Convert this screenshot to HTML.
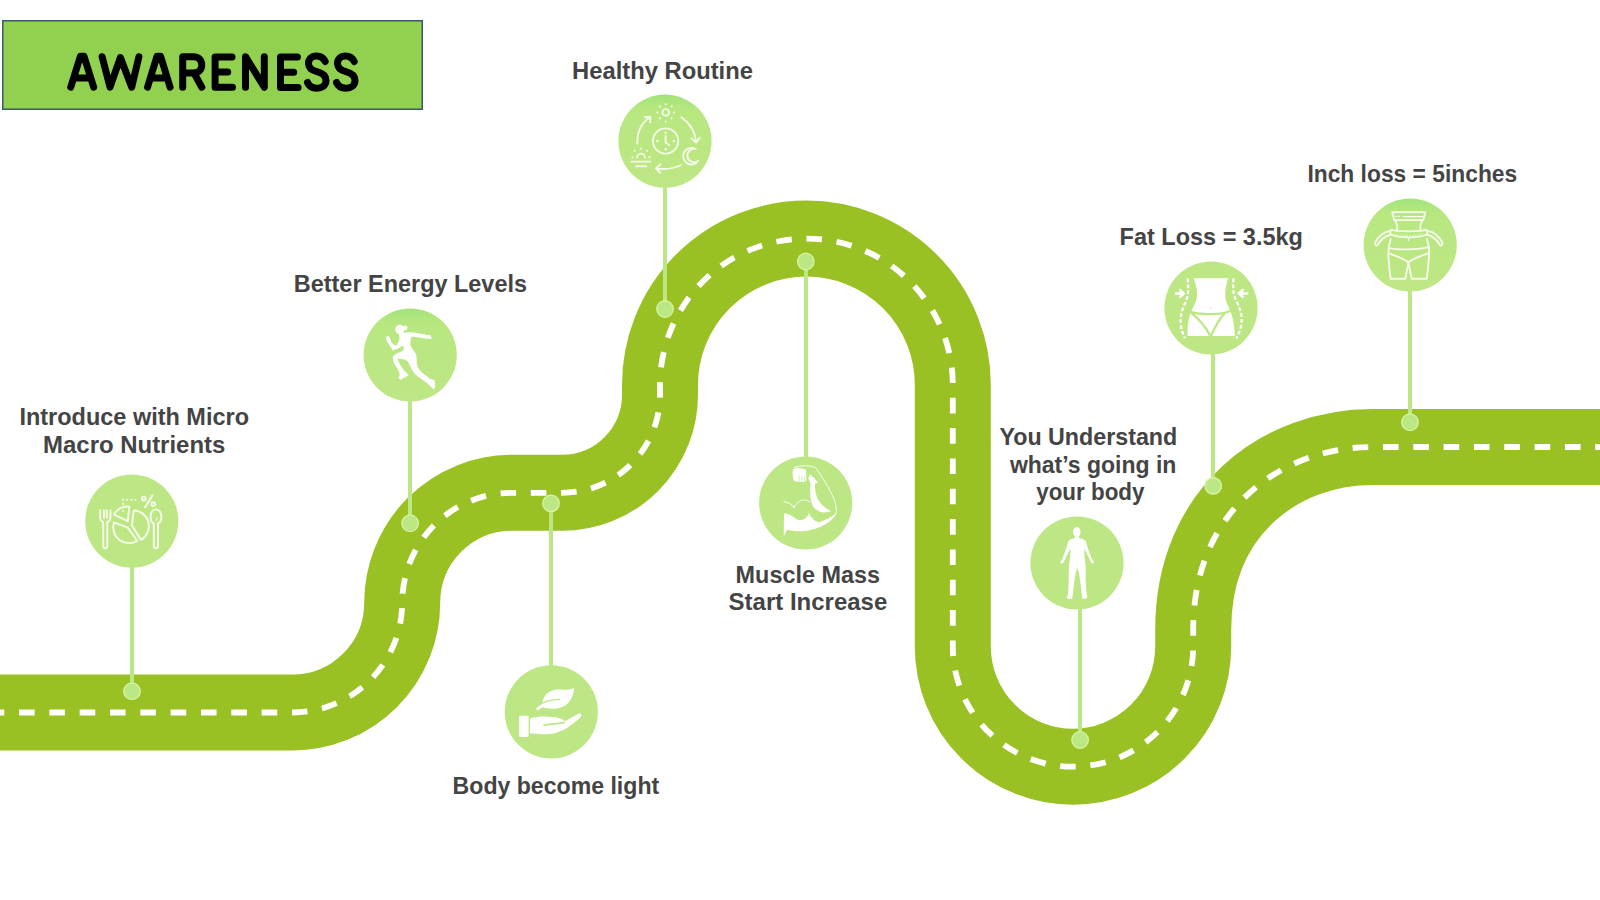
<!DOCTYPE html>
<html>
<head>
<meta charset="utf-8">
<style>
html,body{margin:0;padding:0;background:#ffffff;}
body{width:1600px;height:900px;overflow:hidden;position:relative;}
svg{position:absolute;left:0;top:0;}
.t{font-family:"Liberation Sans",sans-serif;font-weight:bold;fill:#444444;font-size:23.2px;}
</style>
</head>
<body>
<svg width="1600" height="900" viewBox="0 0 1600 900">
  <defs>
    <linearGradient id="cg" x1="0" y1="0" x2="0" y2="1">
      <stop offset="0" stop-color="#A2E37A"/>
      <stop offset="0.16" stop-color="#B8E780"/>
      <stop offset="1" stop-color="#BEE785"/>
    </linearGradient>
  </defs>
  <!-- title box -->
  <rect x="2.75" y="20.75" width="419.5" height="88.5" fill="#92D050" stroke="#3B5868" stroke-width="1.5"/>
  <path fill="none" stroke="#000000" stroke-width="7" stroke-linecap="round" stroke-linejoin="round" d="M70.7 87.2 L80.4 56.2 H84 L93.7 87.2 M75.6 78 H88.8 M102.1 56.7 L110 87.2 L120.4 57.5 L131.7 87.2 L138.9 56.7 M147.5 87.2 L157 56.2 H160.6 L170.1 87.2 M152.3 78 H165.5 M182.7 87.2 V56.7 H193.5 C199 56.7 201.7 60.5 201.7 65 C201.7 69.5 199 73 193.5 73 H182.7 M194 73 L201.8 87.2 M232 56.9 H215.1 V87.3 H232.5 M215.1 72.1 H227.7 M245.5 87.2 V56.7 L264.3 87.2 V56.7 M297.4 57 H280.5 V87.5 H298.1 M280.5 72.2 H293.7 M325.2 61.5 C323.5 58 320 56 316.5 56 C311.5 56 308.5 59 308.5 63.5 C308.5 68.5 312.5 70.5 317 71.7 C322 73 326 75.5 326 80.5 C326 85.5 322 88.2 316.8 88.2 C312.5 88.2 309 86 307.5 82.5 M354.2 61.5 C352.5 58 349 56 345.5 56 C340.5 56 337.5 59 337.5 63.5 C337.5 68.5 341.5 70.5 346 71.7 C351 73 355 75.5 355 80.5 C355 85.5 351 88.2 345.8 88.2 C341.5 88.2 338 86 336.5 82.5"/>

  <!-- road -->
  <g id="road">
    <path id="roadpath" d="M -10 712.5 H 292.35 A 109.85 109.85 0 0 0 402.2 602.65 A 109.85 109.85 0 0 1 512.05 492.8 H 562 A 98 98 0 0 0 660 394.8 V 385 A 146.4 146.4 0 0 1 952.8 385 V 646.5 A 120.2 120.2 0 0 0 1193.2 646.5 L 1193.2 629.65 C 1193.2 509.5 1282.2 447 1372.4 447 H 1610"
      fill="none" stroke="#9AC124" stroke-width="76"/>
    <path d="M -10 712.5 H 292.35 A 109.85 109.85 0 0 0 402.2 602.65 A 109.85 109.85 0 0 1 512.05 492.8 H 562 A 98 98 0 0 0 660 394.8 V 385 A 146.4 146.4 0 0 1 952.8 385 V 646.5 A 120.2 120.2 0 0 0 1193.2 646.5 L 1193.2 629.65 C 1193.2 509.5 1282.2 447 1372.4 447 H 1610"
      fill="none" stroke="#ffffff" stroke-width="5.8" stroke-dasharray="15.6 14.727" stroke-dashoffset="1.315"/>
  </g>

  <!-- connectors -->
  <g stroke="#BCE785" stroke-width="4" fill="none">
    <line x1="132" y1="567" x2="132" y2="691"/>
    <line x1="410" y1="401" x2="410" y2="523"/>
    <line x1="551" y1="503" x2="551" y2="666"/>
    <line x1="665" y1="187" x2="665" y2="309"/>
    <line x1="806" y1="261" x2="806" y2="457"/>
    <line x1="1080" y1="609" x2="1080" y2="740"/>
    <line x1="1213" y1="354" x2="1213" y2="486"/>
    <line x1="1410" y1="291" x2="1410" y2="422"/>
  </g>
  <g fill="#BCE785" stroke="#D8F5A8" stroke-width="1.2">
    <circle cx="132" cy="691.2" r="8.3"/>
    <circle cx="410.1" cy="523.2" r="8.3"/>
    <circle cx="551" cy="503.4" r="8.3"/>
    <circle cx="665" cy="309" r="8.3"/>
    <circle cx="805.8" cy="261.5" r="8.3"/>
    <circle cx="1080.1" cy="740" r="8.3"/>
    <circle cx="1213.2" cy="485.9" r="8.3"/>
    <circle cx="1410" cy="422.2" r="8.3"/>
  </g>
  <g fill="#BDE785">
    <circle cx="131.8" cy="521.1" r="46.6"/>
    <circle cx="551.3" cy="711.9" r="46.6"/>
    <circle cx="805.7" cy="503" r="46.6"/>
    <circle cx="1077" cy="563" r="46.6"/>
    <circle cx="1211" cy="308" r="46.6"/>
  </g>
  <g fill="url(#cg)">
    <circle cx="410.2" cy="355" r="46.6"/>
    <circle cx="665" cy="141.2" r="46.6"/>
    <circle cx="1410.2" cy="245" r="46.6"/>
  </g>

  <!-- ICONS -->
  <!-- 1 nutrition -->
  <g transform="translate(96,490) scale(0.072239)" fill="none" stroke="#F6FCEA" stroke-width="27" stroke-linejoin="round" stroke-linecap="round">
    <path d="M58 280 V385 Q60 430 100 445 V775 Q100 805 128 805 Q156 805 156 775 V445 Q198 430 200 385 V280"/>
    <path d="M110 280 V385 M150 280 V385"/>
    <path d="M250 340 A208 208 0 0 1 462 230 L440 430 Z"/>
    <path d="M248 450 A218 218 0 0 0 572 702 L440 522 Z"/>
    <path d="M522 282 A218 218 0 0 1 622 690 L498 492 Z"/>
    <path d="M828 268 C780 268 755 320 755 370 C755 420 780 455 800 462 V780 Q800 805 830 805 Q858 805 858 780 V462 C880 455 905 420 905 370 C905 320 876 268 828 268 Z"/>
    <path d="M828 420 Q850 400 845 380" stroke-width="14"/>
    <path d="M680 238 L780 78"/>
    <circle cx="662" cy="118" r="26"/>
    <circle cx="792" cy="195" r="26"/>
  </g>
  <g transform="translate(96,490) scale(0.072239)" fill="#F6FCEA">
    <rect x="362" y="122" width="26" height="26"/><rect x="418" y="122" width="26" height="26"/><rect x="476" y="122" width="26" height="26"/><rect x="532" y="122" width="26" height="26"/><rect x="362" y="178" width="26" height="26"/>
    <circle cx="375" cy="292" r="14"/>
  </g>

  <!-- 2 runner -->
  <g transform="translate(380,320) scale(0.08)" fill="#FFFFFF">
    <ellipse cx="248" cy="118" rx="58" ry="58"/>
    <ellipse cx="318" cy="98" rx="26" ry="30"/>
    <path d="M232 160 L292 158 C322 156 352 150 382 152 C452 160 540 178 600 186 L636 193 L646 236 L596 234 C530 224 450 214 392 206 C386 240 380 272 377 302 C384 342 425 382 448 422 C462 472 456 532 472 592 C502 642 562 690 630 738 L682 750 L692 842 L668 868 C630 820 562 772 500 726 C432 682 396 622 370 562 C356 522 336 506 316 496 C282 488 240 482 218 480 C238 542 276 610 326 656 L360 690 L252 750 L232 720 C256 696 246 652 214 602 C180 552 154 502 160 462 C176 428 232 408 290 384 C298 362 298 342 292 322 C250 342 200 372 160 380 C128 332 100 282 80 252 C64 222 80 196 106 202 C126 214 134 244 140 272 C156 300 180 318 206 318 C226 290 240 256 244 222 C240 200 234 182 232 160 Z"/>
  </g>

  <!-- 3 routine -->
  <g transform="translate(604,81) scale(0.133333)" fill="none" stroke="#F4FBE8" stroke-width="14" stroke-linecap="round" stroke-linejoin="round">
    <circle cx="462" cy="450" r="95"/>
    <path d="M462 412 V462 L490 482"/>
    <circle cx="463" cy="236" r="25"/>
    <path d="M250 470 C248 380 285 310 345 272"/>
    <path d="M307 270 L347 270 L347 310"/>
    <path d="M580 272 C640 315 685 380 690 455"/>
    <path d="M655 430 L690 462 L718 425"/>
    <path d="M575 632 C520 658 450 665 392 655"/>
    <path d="M425 625 L390 655 L422 688"/>
    <path d="M688 511 A62 62 0 1 0 707 598 A50 50 0 1 1 688 511 Z"/>
    <path d="M248 575 A30 30 0 0 1 308 575 M208 605 H348 M242 639 H317"/>
  </g>
  <g transform="translate(604,81) scale(0.133333)" fill="#F4FBE8">
    <circle cx="462" cy="388" r="9"/><circle cx="462" cy="512" r="9"/><circle cx="400" cy="450" r="9"/><circle cx="524" cy="450" r="9"/>
    <circle cx="463" cy="174" r="8"/><circle cx="401" cy="236" r="8"/><circle cx="525" cy="236" r="8"/><circle cx="419" cy="192" r="8"/><circle cx="507" cy="192" r="8"/><circle cx="419" cy="280" r="8"/><circle cx="507" cy="280" r="8"/>
    <rect x="458" y="294" width="10" height="20" rx="4"/>
    <circle cx="276" cy="508" r="8"/><circle cx="230" cy="524" r="8"/><circle cx="323" cy="524" r="8"/><circle cx="214" cy="574" r="8"/><circle cx="342" cy="571" r="8"/>
  </g>

  <!-- 4 hand + leaf -->
  <g transform="translate(490,652) scale(0.133333)" fill="#FFFFFF">
    <path d="M345 425 C360 405 380 395 392 390 C395 330 440 280 520 282 C560 284 600 285 632 270 C625 330 600 390 545 410 C500 428 450 432 398 415 C385 422 365 432 355 438 Z"/>
    <rect x="218" y="478" width="72" height="160" rx="10"/>
    <path d="M300 498 C360 480 420 480 480 488 C520 494 555 508 560 520 C600 500 640 475 668 462 C690 455 692 478 672 495 C620 545 560 590 480 612 C420 625 350 612 300 610 Z"/>
  </g>
  <g transform="translate(490,652) scale(0.133333)" fill="none" stroke="#BCE785">
    <path d="M360 405 C400 370 460 355 525 355" stroke-width="10"/>
    <path d="M400 548 C450 540 500 540 560 528" stroke-width="12"/>
  </g>

  <!-- 5 muscle -->
  <g transform="translate(775,460) scale(0.088889)">
    <path d="M215 85 C300 55 420 58 465 95 C520 180 620 330 660 430 C690 510 700 570 680 615" fill="none" stroke="#FFFFFF" stroke-width="10" stroke-linecap="round"/>
    <path d="M205 105 C230 82 300 88 350 112 L352 238 C300 252 240 252 210 232 C195 185 195 135 205 105 Z" fill="#FFFFFF"/>
    <path d="M270 175 V245 M302 180 V248 M334 185 V250" stroke="#BDE785" stroke-width="8" fill="none"/>
    <path d="M398 160 L485 252 L448 268 C450 400 480 500 630 575 C560 612 460 585 420 505 C392 435 393 335 400 262 L375 205 Z" fill="#FFFFFF"/>
    <path d="M100 468 C150 478 190 495 215 535 C240 468 320 420 392 468" fill="none" stroke="#FFFFFF" stroke-width="10" stroke-linecap="round"/>
    <path d="M200 520 L215 548 L232 518 Z" fill="#FFFFFF"/>
    <path d="M102 598 C160 608 200 625 240 665 C300 705 375 650 382 592 C400 645 440 690 492 702 C560 682 640 640 690 600 C650 700 480 792 300 802 C220 804 175 795 135 782 L98 862 Z" fill="#FFFFFF"/>
  </g>

  <!-- 6 human -->
  <g transform="translate(1055,522) scale(0.091075)" fill="#FFFFFF">
    <path d="M240 55 C265 55 280 75 280 105 C280 135 268 150 262 158 L265 175 C300 185 330 190 340 215 C355 280 390 370 405 410 C420 430 435 445 425 455 C405 455 390 440 385 420 C360 360 335 320 320 290 C318 350 330 420 335 470 C340 560 335 650 340 720 C345 780 350 810 355 835 L300 845 C295 800 285 700 270 600 C262 560 255 520 245 505 C235 520 228 560 220 600 C205 700 195 800 190 845 L130 840 C140 810 145 780 148 720 C152 650 148 560 155 470 C160 420 172 350 172 290 C155 320 130 360 105 420 C100 440 85 455 65 455 C55 445 65 430 80 410 C95 370 130 280 145 215 C155 190 180 185 215 175 L218 158 C212 150 200 135 200 105 C200 75 215 55 240 55 Z"/>
  </g>

  <!-- 7 fat loss -->
  <g transform="translate(1175,270) scale(0.083333)">
    <path d="M222 100 H640 C615 170 600 240 602 300 C605 380 640 430 665 495 C700 580 715 680 718 792 H150 C148 680 160 580 195 495 C225 430 262 380 265 300 C266 240 250 170 222 100 Z" fill="#FFFFFF"/>
    <path d="M188 502 C300 540 560 540 665 492 M195 515 C300 600 380 700 425 795 M598 515 C520 600 470 700 430 795" fill="none" stroke="#BCE785" stroke-width="28"/>
    <circle cx="428" cy="458" r="6" fill="#9AB870"/>
    <path d="M152 100 C158 200 170 280 130 380 C70 500 30 640 120 820" fill="none" stroke="#FFFFFF" stroke-width="28" stroke-dasharray="46 26" stroke-linecap="butt"/>
    <path d="M702 100 C696 200 690 280 740 380 C810 520 830 650 735 820" fill="none" stroke="#FFFFFF" stroke-width="28" stroke-dasharray="46 26" stroke-linecap="butt"/>
    <path d="M0 282 H95 M52 232 L105 282 L52 332" fill="none" stroke="#FFFFFF" stroke-width="30" stroke-linejoin="round"/>
    <path d="M880 282 H770 M822 232 L765 282 L822 332" fill="none" stroke="#FFFFFF" stroke-width="30" stroke-linejoin="round"/>
  </g>

  <!-- 8 inch loss -->
  <g transform="translate(1370,205) scale(0.088889)" fill="none" stroke="#F6FCEA" stroke-width="21" stroke-linejoin="round" stroke-linecap="round">
    <path d="M250 80 H622 L600 170 H272 Z"/>
    <path d="M372 130 H598" stroke-width="14"/>
    <path d="M292 128 H304 M322 128 H334" stroke-width="14"/>
    <path d="M279 170 C300 200 318 245 300 292 M592 170 C572 200 556 245 572 292"/>
    <path d="M236 278 C300 302 570 302 636 278 C646 292 646 316 640 332 C540 374 330 374 232 332 C226 316 226 292 236 278 Z"/>
    <path d="M282 325 C360 348 510 348 590 325" stroke-width="9" stroke-dasharray="9 24"/>
    <path d="M434 372 V402" stroke-width="14"/>
    <path d="M234 288 C160 302 92 350 55 428 C58 452 72 462 84 452 C112 400 166 352 232 332"/>
    <path d="M638 288 C712 302 780 350 817 428 C814 452 800 462 788 452 C760 400 706 352 640 332"/>
    <path d="M232 382 C215 440 200 520 208 600 C215 700 225 780 232 830 H398 L432 645 L468 830 H638 C645 780 655 700 662 600 C670 520 660 440 640 382"/>
    <path d="M212 482 C300 507 560 507 662 472"/>
    <path d="M218 545 C300 580 390 610 432 645 C470 610 560 580 650 545"/>
  </g>

  <!-- labels -->
  <text class="t" x="19.4" y="424.9" textLength="229.6" lengthAdjust="spacingAndGlyphs">Introduce with Micro</text>
  <text class="t" x="43.1" y="452.5" textLength="182.2" lengthAdjust="spacingAndGlyphs">Macro Nutrients</text>
  <text class="t" x="293.8" y="292.3" textLength="233.2" lengthAdjust="spacingAndGlyphs">Better Energy Levels</text>
  <text class="t" x="572.1" y="79.0" textLength="180.8" lengthAdjust="spacingAndGlyphs">Healthy Routine</text>
  <text class="t" x="452.6" y="793.8" textLength="206.6" lengthAdjust="spacingAndGlyphs">Body become light</text>
  <text class="t" x="735.6" y="582.7" textLength="144.5" lengthAdjust="spacingAndGlyphs">Muscle Mass</text>
  <text class="t" x="728.6" y="609.8" textLength="158.7" lengthAdjust="spacingAndGlyphs">Start Increase</text>
  <text class="t" x="999.4" y="445.0" textLength="177.9" lengthAdjust="spacingAndGlyphs">You Understand</text>
  <text class="t" x="1009.9" y="472.6" textLength="166.5" lengthAdjust="spacingAndGlyphs">what’s going in</text>
  <text class="t" x="1036.2" y="500.0" textLength="108.3" lengthAdjust="spacingAndGlyphs">your body</text>
  <text class="t" x="1119.6" y="245.3" textLength="183.3" lengthAdjust="spacingAndGlyphs">Fat Loss = 3.5kg</text>
  <text class="t" x="1307.4" y="181.5" textLength="209.8" lengthAdjust="spacingAndGlyphs">Inch loss = 5inches</text>
</svg>
</body>
</html>
